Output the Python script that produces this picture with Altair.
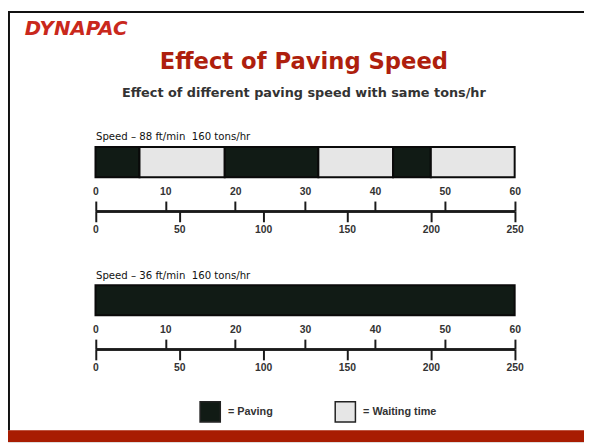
import altair as alt
import pandas as pd

# ---------------- data ----------------
logo_text = "DYNAPAC"
title_text = "Effect of Paving Speed"
subtitle_text = "Effect of different paving speed with same tons/hr"
speed_labels = ["Speed – 88 ft/min \u00a0160 tons/hr", "Speed – 36 ft/min \u00a0160 tons/hr"]

# panel 1 (88 ft/min): segments in minutes
seg1_start = [0, 6.3, 18.5, 31.9, 42.6, 48.0]
seg1_end = [6.3, 18.5, 31.9, 42.6, 48.0, 60]
seg1_type = ["Paving", "Waiting time", "Paving", "Waiting time", "Paving", "Waiting time"]
# panel 2 (36 ft/min)
seg2_start = [0]
seg2_end = [60]
seg2_type = ["Paving"]

minute_ticks = [0, 10, 20, 30, 40, 50, 60]
feet_ticks = [0, 50, 100, 150, 200, 250]
legend_types = ["Paving", "Waiting time"]
legend_colors = ["#111b15", "#e6e6e6"]

# ---------------- layout ----------------
W, H = 584, 437
X_RANGE = [88.7, 513.7]
AXIS_Y = [202.7, 342.7]
INK = "#1a1a1a"

seg_df = pd.DataFrame({
    "speed": [speed_labels[0]] * len(seg1_start) + [speed_labels[1]] * len(seg2_start),
    "start": seg1_start + seg2_start,
    "end": seg1_end + seg2_end,
    "type": seg1_type + seg2_type,
})

min_scale = alt.Scale(domain=[0, 60], range=X_RANGE, nice=False, zero=False)
feet_scale = alt.Scale(domain=[0, 250], range=X_RANGE, nice=False, zero=False)

common_axis = dict(domain=True, domainColor=INK, domainWidth=2.5, ticks=True, tickWidth=2,
                   tickColor=INK, labelFont="Liberation Sans", labelFontWeight="bold",
                   labelFontSize=10.5, labelColor="#333", labelFlush=False, labelBound=False,
                   labelOverlap=False, grid=False, title=None, format="d")


def minutes_axis(y):
    return alt.Axis(orient="top", offset=-y, values=minute_ticks, tickSize=10,
                    labelPadding=5, **common_axis)


def feet_axis(y):
    return alt.Axis(orient="bottom", offset=y - H, values=feet_ticks, tickSize=11,
                    labelPadding=3, **common_axis)


speed_axis = alt.Axis(orient="left", offset=-X_RANGE[0], domain=False, ticks=False, tickSize=0,
                      labelPadding=0, labelAlign="left", labelBaseline="alphabetic",
                      labelOffset=-22, labelFont="DejaVu Sans", labelFontSize=10.3,
                      labelColor="#111", labelLimit=400, labelOverlap=False, grid=False,
                      title=None)

bars = alt.Chart(seg_df).mark_rect(stroke="#0a0a0a", strokeWidth=2).encode(
    x=alt.X("start:Q", scale=min_scale, axis=minutes_axis(AXIS_Y[0])),
    x2="end:Q",
    y=alt.Y("speed:N", scale=alt.Scale(type="band", domain=speed_labels, range=[138, 308.5],
                                       paddingInner=0.782, paddingOuter=0),
            axis=speed_axis),
    color=alt.Color("type:N", scale=alt.Scale(domain=legend_types, range=legend_colors),
                    legend=alt.Legend(title=None, orient="none", legendX=194, legendY=395,
                                      direction="horizontal", symbolType="square",
                                      symbolSize=420, symbolStrokeColor="#222",
                                      symbolStrokeWidth=1.5, symbolOpacity=1,
                                      labelFont="Liberation Sans", labelFontWeight="bold",
                                      labelFontSize=11, labelColor="#333", labelOffset=7,
                                      columnPadding=59, padding=0,
                                      labelExpr="'= ' + datum.label")),
)

min2 = alt.Chart(pd.DataFrame({"m": minute_ticks})).mark_point(opacity=0).encode(
    x=alt.X("m:Q", scale=min_scale, axis=minutes_axis(AXIS_Y[1])))
feet1 = alt.Chart(pd.DataFrame({"f": feet_ticks})).mark_point(opacity=0).encode(
    x=alt.X("f:Q", scale=feet_scale, axis=feet_axis(AXIS_Y[0])))
feet2 = alt.Chart(pd.DataFrame({"f": feet_ticks})).mark_point(opacity=0).encode(
    x=alt.X("f:Q", scale=feet_scale, axis=feet_axis(AXIS_Y[1])))

one = alt.Data(values=[{"k": 0}])
red_band = alt.Chart(one).mark_rect(color="#a81c02").encode(
    x=alt.value(0), x2=alt.value(W), y=alt.value(425), y2=alt.value(H))
left_border = alt.Chart(one).mark_rect(color="#111").encode(
    x=alt.value(0), x2=alt.value(2), y=alt.value(0), y2=alt.value(425))
top_border = alt.Chart(one).mark_rect(color="#111").encode(
    x=alt.value(0), x2=alt.value(W), y=alt.value(0), y2=alt.value(2))
logo = alt.Chart(alt.Data(values=[{"t": logo_text}])).mark_text(
    font="DejaVu Sans", fontWeight="bold", fontStyle="italic", fontSize=20, color="#c9281c",
    align="left", baseline="alphabetic").encode(text="t:N", x=alt.value(17), y=alt.value(24))

chart = alt.layer(bars, min2, feet1, feet2, red_band, left_border, top_border, logo).resolve_scale(
    x="independent").resolve_axis(x="independent").properties(
    width=W, height=H, autosize=alt.AutoSizeParams(type="none"), padding=0,
    title=alt.Title(title_text, subtitle=subtitle_text, anchor="middle", frame="group",
                    orient="top", offset=-90, dx=8, font="DejaVu Sans", fontSize=23,
                    fontWeight="bold", color="#ae1f0e", subtitleFont="DejaVu Sans",
                    subtitleFontSize=13, subtitleFontWeight="bold", subtitleColor="#333",
                    subtitlePadding=13),
).configure_view(stroke=None).configure(background="white")

chart.save("out.html", embed_options={"renderer": "svg", "actions": False})
